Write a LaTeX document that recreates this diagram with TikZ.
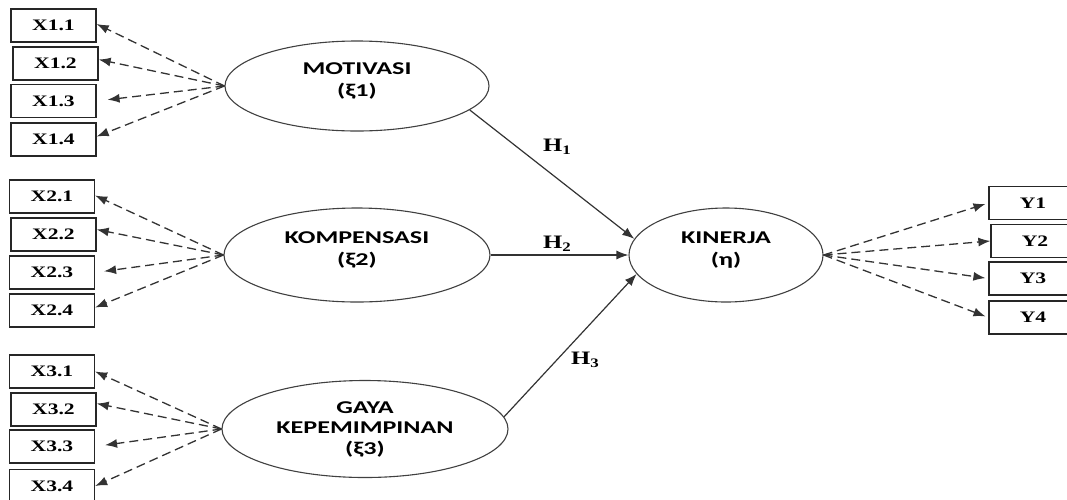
\documentclass[tikz,border=0pt]{standalone}
\usepackage{fontspec}
\usepackage{graphicx}
\setmainfont{Liberation Serif}
\newfontfamily\calfont{Carlito}
\usetikzlibrary{shapes.geometric,arrows.meta}
\newcommand{\sxb}[1]{\scalebox{1.35}[1]{#1}}
\newcommand{\sxe}[1]{\scalebox{1.45}[1]{#1}}
\newcommand{\hlab}[1]{\scalebox{1.3}[1]{H\raisebox{-3.5pt}{\fontsize{13}{13}\selectfont #1}}}
\begin{document}
\begin{tikzpicture}[x=1pt,y=-1pt,
  ind/.style={draw=black!85,line width=1.3pt,minimum width=85pt,minimum height=33pt,inner sep=0pt,
    font=\bfseries\fontsize{16}{18}\selectfont},
  lat/.style={draw=black!75,line width=1.1pt,ellipse,inner sep=0pt,align=center,
    font=\calfont\bfseries\fontsize{18}{22}\selectfont},
  load/.style={draw=black!80,line width=1.3pt,dash pattern=on 9pt off 5pt,-{Latex[length=12pt,width=9pt]}},
  path/.style={draw=black!80,line width=1.2pt,-{Latex[length=12pt,width=9pt]}},
  hl/.style={font=\bfseries\fontsize{19}{19}\selectfont}]
\useasboundingbox (0,0) rectangle (1067,499);
% indicator boxes
\node[ind] (x11) at (53.5,25.5) {\sxb{X1.1}};
\node[ind] (x12) at (55.5,63.5) {\sxb{X1.2}};
\node[ind] (x13) at (53.5,101) {\sxb{X1.3}};
\node[ind] (x14) at (53.5,139.5) {\sxb{X1.4}};
\node[ind] (x21) at (52,196.5) {\sxb{X2.1}};
\node[ind] (x22) at (53.5,234.5) {\sxb{X2.2}};
\node[ind] (x23) at (52,272.5) {\sxb{X2.3}};
\node[ind] (x24) at (52,310.5) {\sxb{X2.4}};
\node[ind] (x31) at (52,371.5) {\sxb{X3.1}};
\node[ind] (x32) at (53.5,409.5) {\sxb{X3.2}};
\node[ind] (x33) at (52,446.5) {\sxb{X3.3}};
\node[ind] (x34) at (52,486) {\sxb{X3.4}};
\node[ind,minimum width=88pt] (y1) at (1033,203) {\sxb{Y1}};
\node[ind,minimum width=88pt] (y2) at (1035,241) {\sxb{Y2}};
\node[ind,minimum width=88pt] (y3) at (1033,278.5) {\sxb{Y3}};
\node[ind,minimum width=88pt] (y4) at (1033,317.5) {\sxb{Y4}};
% latent variables
\node[lat,minimum width=264pt,minimum height=90pt] (mot) at (357,86)
  {\sxe{MOTIVASI}\\\sxe{(ξ1)}\rule[-12pt]{0pt}{0pt}};
\node[lat,minimum width=266pt,minimum height=94pt] (kom) at (357,255)
  {\sxe{KOMPENSASI}\\\sxe{(ξ2)}\rule[-12pt]{0pt}{0pt}};
\node[lat,minimum width=286pt,minimum height=97pt] (gay) at (365,429)
  {\sxe{GAYA}\\[-2pt]\sxe{KEPEMIMPINAN}\\[-1pt]\sxe{(ξ3)}};
\node[lat,minimum width=194pt,minimum height=94pt] (kin) at (726,255)
  {\sxe{KINERJA}\\\sxe{(η)}\rule[-12pt]{0pt}{0pt}};
% loadings
\draw[load] (mot.west) -- ([yshift=1.5pt]x11.east);
\draw[load] (mot.west) -- ([yshift=4pt]x12.east);
\draw[load,shorten >=11pt] (mot.west) -- (x13.east);
\draw[load] (mot.west) -- ([yshift=3pt]x14.east);
\draw[load] (kom.west) -- ([yshift=1pt]x21.east);
\draw[load] (kom.west) -- ([yshift=5pt]x22.east);
\draw[load,shorten >=9pt] (kom.west) -- (x23.east);
\draw[load] (kom.west) -- ([yshift=3pt]x24.east);
\draw[load] (gay.west) -- (x31.east);
\draw[load] (gay.west) -- ([yshift=6pt]x32.east);
\draw[load,shorten >=10pt] (gay.west) -- (x33.east);
\draw[load] (gay.west) -- (x34.east);
\draw[load,shorten >=3pt] (kin.east) -- (y1.west);
\draw[load] (kin.east) -- (y2.west);
\draw[load,shorten >=3pt] (kin.east) -- (y3.west);
\draw[load,shorten >=3pt] (kin.east) -- (y4.west);
% structural paths
\draw[path] (mot.-12) -- (kin.170);
\draw[path] (kom.east) -- (kin.west);
\draw[path] (gay.5) -- (kin.-168);
\node[hl] (h1) at (557,147) {\hlab{1}};
\node[hl] (h2) at (557,244) {\hlab{2}};
\node[hl] (h3) at (585,360) {\hlab{3}};
\end{tikzpicture}
\end{document}
